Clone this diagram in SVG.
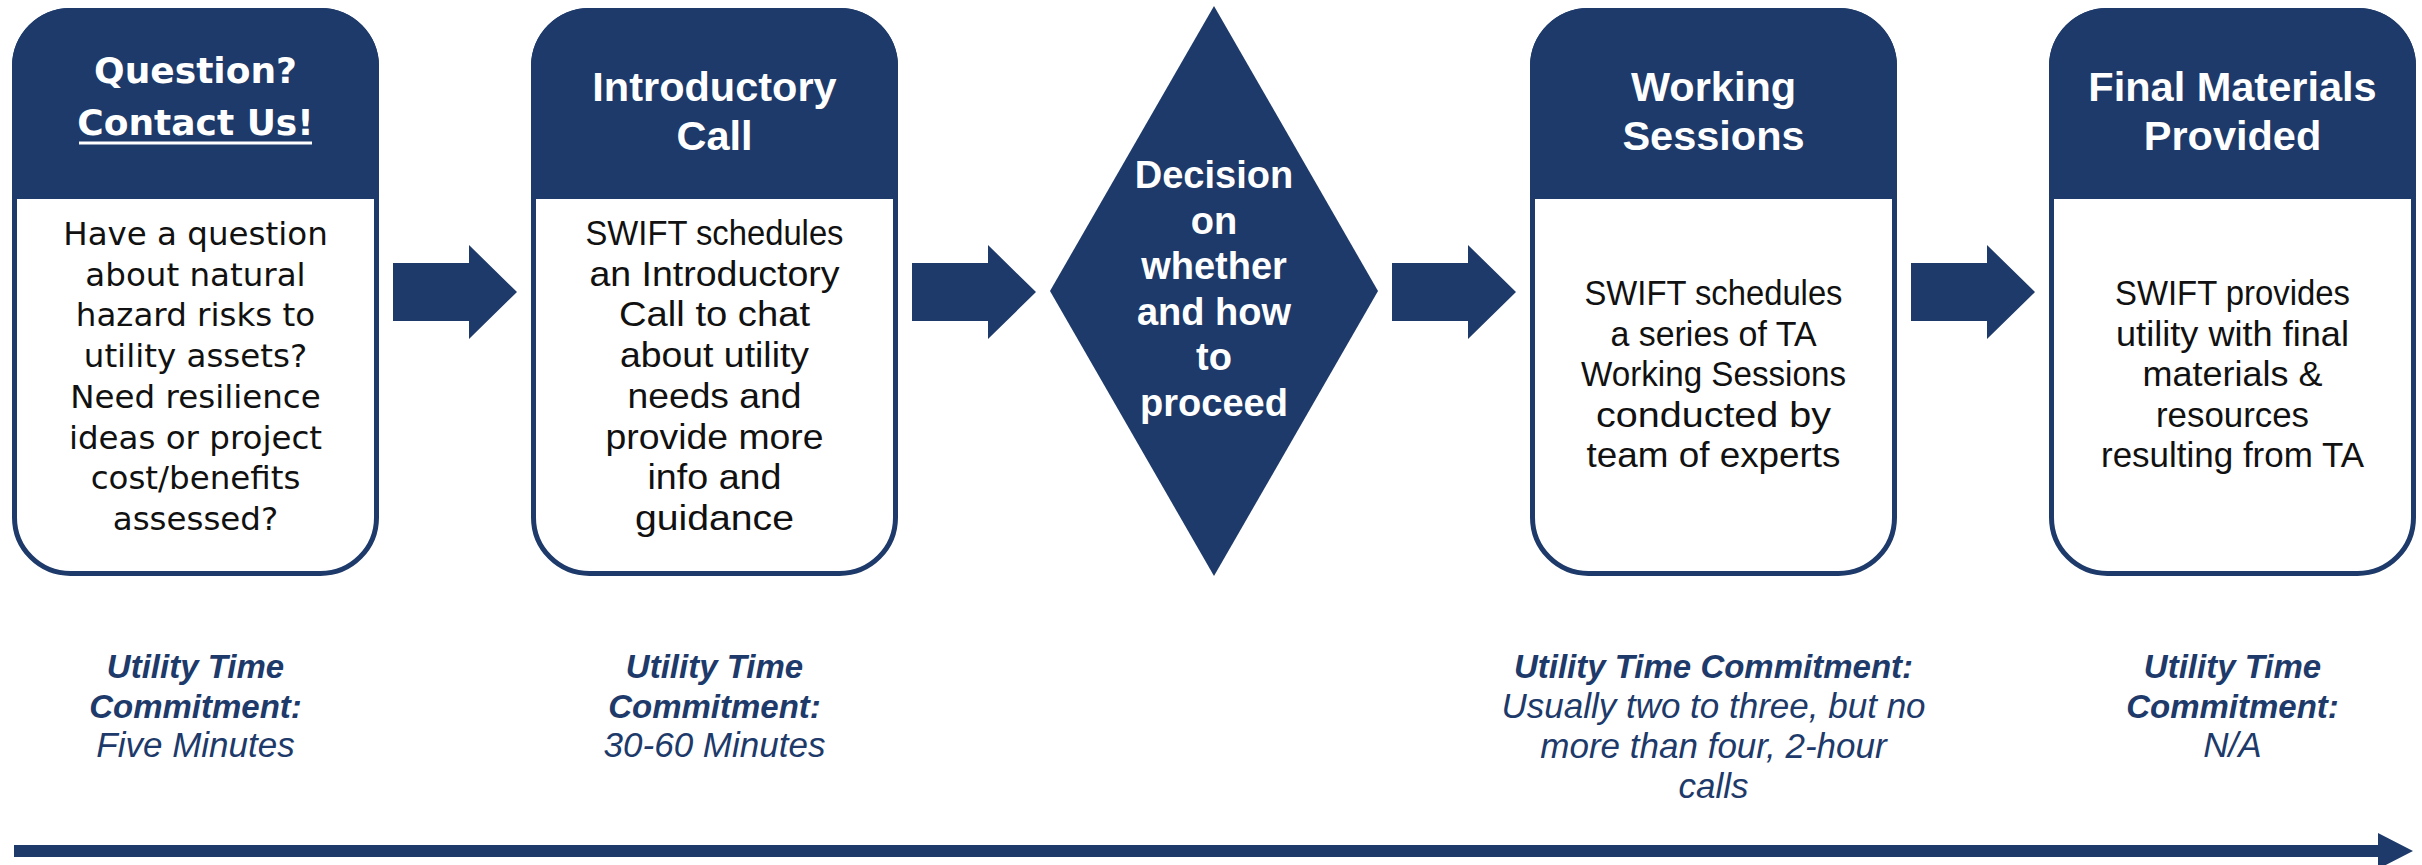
<svg xmlns="http://www.w3.org/2000/svg" width="2422" height="865" viewBox="0 0 2422 865">
<style>
.nav{fill:#1d3a6a}
.box{fill:#fff;stroke:#1d3a6a;stroke-width:5}
text{text-anchor:middle}
.hq{font-family:"DejaVu Sans",sans-serif;font-weight:bold;font-size:36px;fill:#fff}
.hc{font-family:"Liberation Sans",Arial,sans-serif;font-weight:bold;font-size:41.5px;fill:#fff}
.b1{font-family:"DejaVu Sans",sans-serif;font-size:32.5px;fill:#111}
.bc{font-family:"Liberation Sans",Arial,sans-serif;font-size:35px;fill:#111}
.dt{font-family:"Liberation Sans",Arial,sans-serif;font-weight:bold;font-size:38px;fill:#fff}
.lb{font-family:"Liberation Sans",Arial,sans-serif;font-weight:bold;font-style:italic;font-size:33px;fill:#1d3a6a}
.li{font-family:"Liberation Sans",Arial,sans-serif;font-style:italic;font-size:35px;fill:#1d3a6a}
</style>
<rect width="2422" height="865" fill="#fff"/>
<g id="connectors">
<polygon class="nav" points="393,263 469,263 469,245 517,292 469,339 469,321 393,321"/>
<polygon class="nav" points="912,263 988,263 988,245 1036,292 988,339 988,321 912,321"/>
<polygon class="nav" points="1392,263 1468,263 1468,245 1516,292 1468,339 1468,321 1392,321"/>
<polygon class="nav" points="1911,263 1987,263 1987,245 2035,292 1987,339 1987,321 1911,321"/>
<polygon class="nav" points="14,845 2378,845 2378,833 2413,851 2378,869 2378,857 14,857"/>
</g>
<g id="node-question">
<rect class="box" x="14.5" y="10.5" width="362" height="563" rx="56"/>
<path class="nav" d="M12,199 V66 A58,58 0 0 1 70,8 H321 A58,58 0 0 1 379,66 V199 Z"/>
<text class="hq" x="195.5" y="83">Question?</text>
<text class="hq" x="195.5" y="135">Contact Us!</text>
<rect x="79" y="141.5" width="233" height="3" fill="#fff"/>
<text class="b1" x="195.5" y="245">Have a question</text>
<text class="b1" x="195.5" y="285.7">about natural</text>
<text class="b1" x="195.5" y="326.4">hazard risks to</text>
<text class="b1" x="195.5" y="367">utility assets?</text>
<text class="b1" x="195.5" y="407.8">Need resilience</text>
<text class="b1" x="195.5" y="448.5">ideas or project</text>
<text class="b1" x="195.5" y="489">cost/benefits</text>
<text class="b1" x="195.5" y="530">assessed?</text>
</g>
<g id="node-intro">
<rect class="box" x="533.5" y="10.5" width="362" height="563" rx="56"/>
<path class="nav" d="M531,199 V66 A58,58 0 0 1 589,8 H840 A58,58 0 0 1 898,66 V199 Z"/>
<text class="hc" x="714.5" y="101">Introductory</text>
<text class="hc" x="714.5" y="150">Call</text>
<text class="bc" x="714.5" y="245" textLength="258" lengthAdjust="spacingAndGlyphs">SWIFT schedules</text>
<text class="bc" x="714.5" y="285.7" textLength="250" lengthAdjust="spacingAndGlyphs">an Introductory</text>
<text class="bc" x="714.5" y="326.4" textLength="191" lengthAdjust="spacingAndGlyphs">Call to chat</text>
<text class="bc" x="714.5" y="367" textLength="189" lengthAdjust="spacingAndGlyphs">about utility</text>
<text class="bc" x="714.5" y="407.8" textLength="174" lengthAdjust="spacingAndGlyphs">needs and</text>
<text class="bc" x="714.5" y="448.5" textLength="218" lengthAdjust="spacingAndGlyphs">provide more</text>
<text class="bc" x="714.5" y="489" textLength="134" lengthAdjust="spacingAndGlyphs">info and</text>
<text class="bc" x="714.5" y="530" textLength="159" lengthAdjust="spacingAndGlyphs">guidance</text>
</g>
<g id="node-decision">
<polygon class="nav" points="1214,6 1378,291 1214,576 1050,291"/>
<text class="dt" x="1214" y="188">Decision</text>
<text class="dt" x="1214" y="233.5">on</text>
<text class="dt" x="1214" y="279">whether</text>
<text class="dt" x="1214" y="324.5">and how</text>
<text class="dt" x="1214" y="370">to</text>
<text class="dt" x="1214" y="415.5">proceed</text>
</g>
<g id="node-working">
<rect class="box" x="1532.5" y="10.5" width="362" height="563" rx="56"/>
<path class="nav" d="M1530,199 V66 A58,58 0 0 1 1588,8 H1839 A58,58 0 0 1 1897,66 V199 Z"/>
<text class="hc" x="1713.5" y="101">Working</text>
<text class="hc" x="1713.5" y="150">Sessions</text>
<text class="bc" x="1713.5" y="305" textLength="258" lengthAdjust="spacingAndGlyphs">SWIFT schedules</text>
<text class="bc" x="1713.5" y="346" textLength="206" lengthAdjust="spacingAndGlyphs">a series of TA</text>
<text class="bc" x="1713.5" y="386" textLength="265" lengthAdjust="spacingAndGlyphs">Working Sessions</text>
<text class="bc" x="1713.5" y="427" textLength="235" lengthAdjust="spacingAndGlyphs">conducted by</text>
<text class="bc" x="1713.5" y="467" textLength="254" lengthAdjust="spacingAndGlyphs">team of experts</text>
</g>
<g id="node-final">
<rect class="box" x="2051.5" y="10.5" width="362" height="563" rx="56"/>
<path class="nav" d="M2049,199 V66 A58,58 0 0 1 2107,8 H2358 A58,58 0 0 1 2416,66 V199 Z"/>
<text class="hc" x="2232.5" y="101">Final Materials</text>
<text class="hc" x="2232.5" y="150">Provided</text>
<text class="bc" x="2232.5" y="305" textLength="235" lengthAdjust="spacingAndGlyphs">SWIFT provides</text>
<text class="bc" x="2232.5" y="346" textLength="233" lengthAdjust="spacingAndGlyphs">utility with final</text>
<text class="bc" x="2232.5" y="386" textLength="180" lengthAdjust="spacingAndGlyphs">materials &amp;</text>
<text class="bc" x="2232.5" y="427" textLength="153" lengthAdjust="spacingAndGlyphs">resources</text>
<text class="bc" x="2232.5" y="467" textLength="263" lengthAdjust="spacingAndGlyphs">resulting from TA</text>
</g>
<g id="label-question">
<text class="lb" x="195.5" y="678">Utility Time</text>
<text class="lb" x="195.5" y="718">Commitment:</text>
<text class="li" x="195.5" y="757">Five Minutes</text>
</g>
<g id="label-intro">
<text class="lb" x="714.5" y="678">Utility Time</text>
<text class="lb" x="714.5" y="718">Commitment:</text>
<text class="li" x="714.5" y="757">30-60 Minutes</text>
</g>
<g id="label-working">
<text class="lb" x="1713.5" y="678">Utility Time Commitment:</text>
<text class="li" x="1713.5" y="718">Usually two to three, but no</text>
<text class="li" x="1713.5" y="758">more than four, 2-hour</text>
<text class="li" x="1713.5" y="798">calls</text>
</g>
<g id="label-final">
<text class="lb" x="2232.5" y="678">Utility Time</text>
<text class="lb" x="2232.5" y="718">Commitment:</text>
<text class="li" x="2232.5" y="757">N/A</text>
</g>
</svg>
